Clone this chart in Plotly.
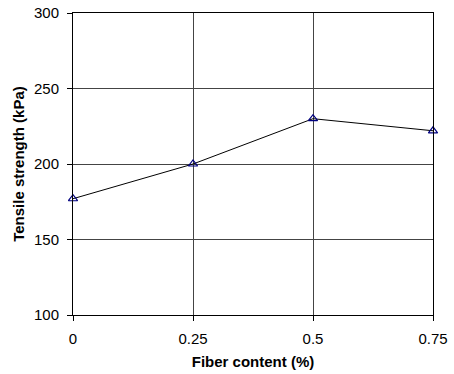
import plotly.graph_objects as go

fiber = [0, 0.25, 0.5, 0.75]
strength = [177, 200, 230, 222]
x_ticks = [0, 0.25, 0.5, 0.75]
x_labels = ["0", "0.25", "0.5", "0.75"]
y_ticks = [100, 150, 200, 250, 300]

fig = go.Figure(go.Scatter(
    x=fiber, y=strength, mode="lines+markers",
    line=dict(color="black", width=1),
    marker=dict(symbol="triangle-up-open", size=8, color="#000080", line=dict(width=1.2, color="#000080")),
    cliponaxis=False,
))

font = dict(family="Liberation Sans, Arial, sans-serif", size=15, color="black")
fig.update_layout(
    width=454, height=374,
    margin=dict(l=73, r=21, t=13, b=59),
    paper_bgcolor="white", plot_bgcolor="white",
    font=font, showlegend=False,
)
fig.update_xaxes(
    range=[0, 0.75], tickvals=x_ticks, ticktext=x_labels,
    showgrid=True, gridcolor="#444444", gridwidth=1,
    showline=True, linecolor="black", linewidth=1, mirror=True,
    ticks="outside", ticklen=5, tickcolor="black", ticklabelstandoff=5,
    zeroline=False, automargin=False,
    title=dict(text="<b>Fiber content (%)</b>", font=dict(size=15), standoff=10),
)
fig.update_yaxes(
    range=[100, 300], tickvals=y_ticks,
    showgrid=True, gridcolor="#444444", gridwidth=1,
    showline=True, linecolor="black", linewidth=1, mirror=True,
    ticks="outside", ticklen=5, tickcolor="black", ticklabelstandoff=5,
    zeroline=False, automargin=False,
    title=dict(text="<b>Tensile strength (kPa)</b>", font=dict(size=15), standoff=5),
)
fig.write_html("out.html")
